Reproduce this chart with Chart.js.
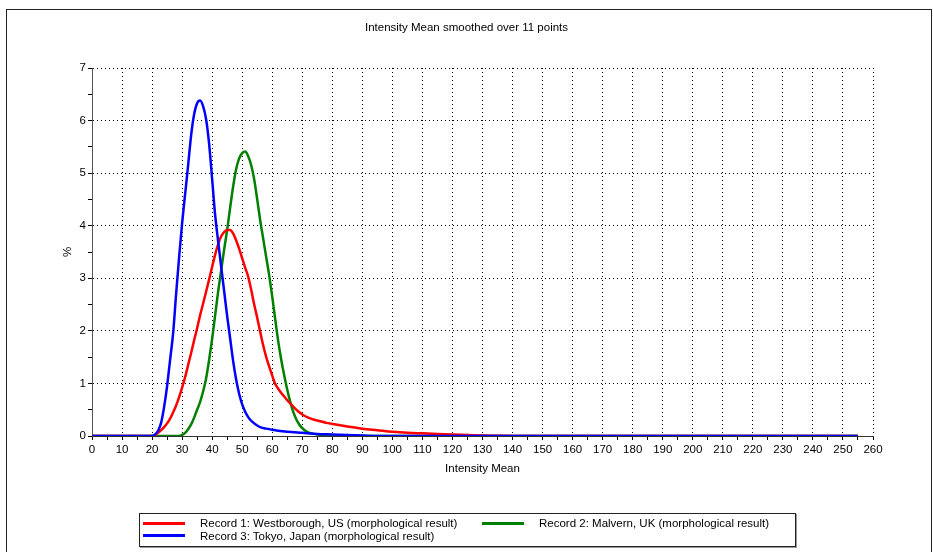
<!DOCTYPE html>
<html>
<head>
<meta charset="utf-8">
<script src="https://cdn.jsdelivr.net/npm/chart.js@4.4.0/dist/chart.umd.min.js"></script>
<style>
  html, body { margin: 0; padding: 0; background: #fff; }
  #wrap { position: relative; width: 933px; height: 552px; overflow: hidden; }
  #frame { position: absolute; left: 6px; top: 9px; width: 924px; height: 600px; border: 1px solid #222; pointer-events: none; }
  #legend {
    position: absolute; left: 139px; top: 513px; width: 652px; height: 29px;
    border: 1px solid #222; box-shadow: 1px 1px 0 #999; background: #fff;
    display: grid; grid-template-columns: 339px 1fr; grid-auto-rows: 12.5px;
    padding: 3px 0 0 3px; box-sizing: content-box;
    font: 11.5px "Liberation Sans", Arial, sans-serif; color: #000;
  }
  #legend .item { display: flex; align-items: center; white-space: nowrap; }
  #legend .swatch { width: 42px; height: 3px; margin-right: 15px; }
</style>
</head>
<body>
<div id="wrap">
  <canvas id="chart"></canvas>
  <div id="frame"></div>
  <div id="legend"></div>
</div>
<script>
// =======================
// Data
// =======================
const chartTitle = "Intensity Mean smoothed over 11 points";
const xTitle = "Intensity Mean";
const yTitle = "%";
const seriesNames = [
  "Record 1: Westborough, US (morphological result)",
  "Record 2: Malvern, UK (morphological result)",
  "Record 3: Tokyo, Japan (morphological result)"
];
const seriesColors = ["#ff0000", "#008000", "#0000ff"];

const rec1X = [0, 20, 21, 22, 23, 24, 25, 26, 27, 28, 29, 30, 31, 32, 33, 34, 35, 36, 37, 38, 39, 40,
  41, 42, 43, 44, 45, 46, 47, 48, 49, 50, 51, 52, 53, 54, 55, 56, 57, 58, 59, 60,
  61, 62, 63, 64, 65, 66, 67, 68, 69, 70, 72, 74, 76, 78, 80,
  85, 90, 95, 100, 105, 110, 115, 120, 125, 130, 135, 140, 255];
const rec1Y = [0, 0, 0.02, 0.06, 0.11, 0.17, 0.24, 0.33, 0.45, 0.58, 0.74, 0.92, 1.12, 1.35, 1.58, 1.82, 2.05, 2.3, 2.52, 2.75, 2.98, 3.22,
  3.45, 3.65, 3.8, 3.88, 3.92, 3.92, 3.85, 3.72, 3.56, 3.38, 3.2, 3.03, 2.78, 2.5, 2.25, 1.98, 1.72, 1.5, 1.32, 1.15,
  0.99, 0.9, 0.82, 0.75, 0.68, 0.62, 0.56, 0.5, 0.45, 0.41, 0.35, 0.31, 0.28, 0.25, 0.23,
  0.18, 0.14, 0.11, 0.08, 0.06, 0.05, 0.04, 0.03, 0.02, 0.01, 0.005, 0, 0];

const rec2X = [0, 29, 30, 31, 32, 33, 34, 35, 36, 37, 38, 39, 40, 41, 42, 43, 44, 45, 46, 47, 48, 49, 50,
  51, 52, 53, 54, 55, 56, 57, 58, 59, 60, 61, 62, 63, 64, 65, 66, 67, 68, 69, 70,
  71, 72, 74, 76, 78, 80, 255];
const rec2Y = [0, 0, 0.02, 0.06, 0.13, 0.22, 0.35, 0.5, 0.65, 0.85, 1.1, 1.45, 1.85, 2.3, 2.75, 3.15, 3.55, 3.92, 4.35, 4.75, 5.08, 5.28, 5.38,
  5.41, 5.32, 5.15, 4.88, 4.5, 4.1, 3.75, 3.4, 3.05, 2.65, 2.22, 1.8, 1.45, 1.15, 0.88, 0.65, 0.46, 0.32, 0.22, 0.15,
  0.1, 0.07, 0.04, 0.02, 0.01, 0, 0];

const rec3X = [0, 20, 21, 22, 23, 24, 25, 26, 27, 28, 29, 30, 31, 32, 33, 34, 35, 36, 37, 38, 39, 40,
  41, 42, 43, 44, 45, 46, 47, 48, 49, 50, 51, 52, 53, 54, 55, 56,
  58, 60, 62, 65, 70, 75, 80, 85, 90, 95, 255];
const rec3Y = [0, 0, 0.03, 0.1, 0.25, 0.55, 0.95, 1.45, 1.95, 2.7, 3.4, 4.05, 4.6, 5.15, 5.72, 6.12, 6.33, 6.38, 6.27, 6.02, 5.55, 4.88,
  4.2, 3.7, 3.22, 2.75, 2.28, 1.85, 1.42, 1.07, 0.8, 0.6, 0.46, 0.36, 0.29, 0.24, 0.2, 0.17,
  0.14, 0.12, 0.1, 0.08, 0.06, 0.04, 0.03, 0.02, 0.01, 0, 0];

const xMin = 0, xMax = 260, xStep = 5, xLabelStep = 10;
const yMin = 0, yMax = 7, yStep = 0.5;

// =======================
// Helpers
// =======================
const toPoints = (xs, ys) => xs.map((x, i) => ({ x, y: ys[i] }));
const font = { family: "'Liberation Sans', Arial, sans-serif", size: 11.5 };
const DOTS = "#000";
const CLEAR = "rgba(0,0,0,0)";

Chart.defaults.font.family = font.family;
Chart.defaults.font.size = font.size;
Chart.defaults.color = "#000";

const seriesData = [toPoints(rec1X, rec1Y), toPoints(rec2X, rec2Y), toPoints(rec3X, rec3Y)];
const drawOrder = [1, 2, 0]; // blue on top, as in the reference

const chart = new Chart(document.getElementById("chart"), {
  type: "line",
  data: {
    datasets: seriesNames.map((name, i) => ({
      label: name,
      data: seriesData[i],
      borderColor: seriesColors[i],
      backgroundColor: seriesColors[i],
      borderWidth: 2.5,
      pointRadius: 0,
      cubicInterpolationMode: "monotone",
      order: drawOrder[i]
    }))
  },
  options: {
    responsive: true,
    maintainAspectRatio: false,
    animation: false,
    events: [],
    layout: { padding: { left: 0, right: 0, top: 0, bottom: 76 } },
    plugins: {
      legend: { display: false },
      tooltip: { enabled: false },
      title: {
        display: true,
        text: chartTitle,
        color: "#000",
        font: { size: font.size, weight: "normal" },
        padding: { top: 21, bottom: 33.2 }
      }
    },
    scales: {
      x: {
        type: "linear",
        min: xMin,
        max: xMax,
        afterFit: s => { s.height = 40; },
        ticks: {
          stepSize: xStep,
          autoSkip: false,
          maxRotation: 0,
          padding: 3,
          color: "#000",
          callback: v => (v % xLabelStep === 0 ? String(v) : "")
        },
        grid: {
          color: c => (c.tick && c.tick.value % xLabelStep === 0 && c.tick.value !== 0 ? DOTS : CLEAR),
          tickColor: "#000",
          tickLength: 4,
          lineWidth: 1
        },
        border: { display: true, color: "#333", width: 1, dash: [1, 3] },
        title: { display: true, text: xTitle, color: "#000", padding: { top: 0, bottom: 0 } }
      },
      y: {
        type: "linear",
        min: yMin,
        max: yMax,
        afterFit: s => { s.width = 92; },
        ticks: {
          stepSize: yStep,
          autoSkip: false,
          padding: 2,
          color: "#000",
          callback: v => (Number.isInteger(v) ? String(v) : "")
        },
        grid: {
          color: c => (c.tick && Number.isInteger(c.tick.value) && c.tick.value !== 0 ? DOTS : CLEAR),
          tickColor: "#000",
          tickLength: 4,
          lineWidth: 1
        },
        border: { display: true, color: "#555", width: 1, dash: [1, 3] },
        title: { display: true, text: yTitle, color: "#000", padding: { top: 61, bottom: 0 } }
      },
      // empty right-hand axis only to reserve the margin right of the plot
      yRight: {
        type: "linear",
        position: "right",
        display: true,
        afterFit: s => { s.width = 60; },
        ticks: { display: false },
        grid: { display: false },
        border: { display: false }
      }
    }
  }
});

// =======================
// Legend (HTML, from the datasets)
// =======================
const legend = document.getElementById("legend");
chart.data.datasets.forEach(ds => {
  const item = document.createElement("div");
  item.className = "item";
  const sw = document.createElement("span");
  sw.className = "swatch";
  sw.style.background = ds.borderColor;
  const txt = document.createElement("span");
  txt.textContent = ds.label;
  item.appendChild(sw);
  item.appendChild(txt);
  legend.appendChild(item);
});
</script>
</body>
</html>
